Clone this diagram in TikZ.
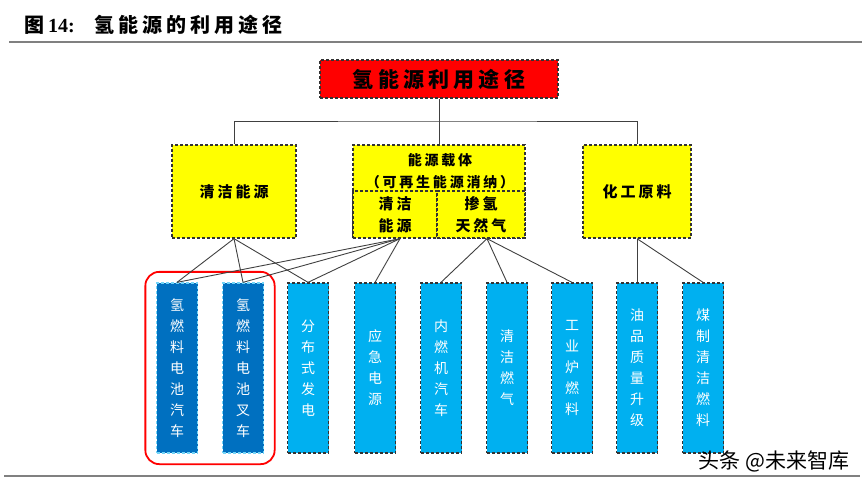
\documentclass[tikz,border=0pt]{standalone}
\usepackage{fontspec}
\usepackage{pdfrender}
\setmainfont{Liberation Serif}
\newfontfamily\cjk[LetterSpace=20]{Noto Sans CJK SC}
\newfontfamily\cjkplain{Noto Sans CJK SC}
\usetikzlibrary{fit}
\definecolor{rootred}{RGB}{255,0,0}
\definecolor{catyellow}{RGB}{255,255,0}
\definecolor{leafblue}{RGB}{0,176,240}
\definecolor{fcblue}{RGB}{0,112,192}
\definecolor{rulegray}{RGB}{128,128,128}
\definecolor{wmedge}{RGB}{60,60,60}
\tikzset{
  box/.style={draw=black!80, dash pattern=on 3pt off 2pt, line width=1.3pt, inner sep=0pt, align=center},
  rootbox/.style={box, fill=rootred, minimum width=238pt, minimum height=38pt, font=\cjk\bfseries\fontsize{21}{24}\selectfont},
  catbox/.style={box, fill=catyellow, minimum height=93pt, font=\cjk\bfseries\fontsize{15}{22}\selectfont},
  subbox/.style={box, fill=catyellow, minimum height=47pt, font=\cjk\bfseries\fontsize{15}{22}\selectfont},
  leafbox/.style={box, fill=leafblue, minimum width=41pt, minimum height=170pt, text=white, font=\cjkplain\fontsize{14}{21}\selectfont},
  fcbox/.style={leafbox, fill=fcblue, draw=leafblue!55!white},
  link/.style={draw=black!75, line width=0.9pt},
  wmark/.style={inner sep=0pt, font=\cjkplain\fontsize{21}{24}\selectfont},
}
\begin{document}
\begin{tikzpicture}[x=1pt, y=-1pt]
  \useasboundingbox (0,0) rectangle (867,481);
  % heading and rules
  \node[anchor=west, inner sep=0pt, font=\bfseries\fontsize{20}{24}\selectfont] (title) at (24,25)
    {{\cjk 图}\hspace{4pt}14:\hspace{20pt}{\cjk 氢能源的利用途径}};
  \draw[rulegray, line width=2pt] (9,42) -- (862,42);
  \draw[rulegray, line width=2.5pt] (4,476) -- (860,476);

  \node[rootbox] (root) at (439,79) {氢能源利用途径};

  \node[catbox, minimum width=124pt] (clean) at (234,191.5) {清洁能源};
  \node[catbox, minimum width=172pt] (carrier) at (439,191.5) {};
  \node[catbox, minimum width=108pt] (chem) at (637,191.5) {化工原料};
  \node[inner sep=0pt, align=center, font=\cjk\bfseries\fontsize{14}{22}\selectfont] (carriertxt) at (440,171)
    {能源载体\\（可再生能源消纳）};
  \node[subbox, minimum width=84pt] (cleanE) at (395,214.5) {清洁\\能源};
  \node[subbox, minimum width=88pt] (blendH) at (481,214.5) {掺氢\\天然气};

  % hydrogen end uses
  \node[fcbox] (fcCar) at (177,368) {氢\\燃\\料\\电\\池\\汽\\车};
  \node[fcbox] (fcFork) at (243,368) {氢\\燃\\料\\电\\池\\叉\\车};
  \node[leafbox] (distGen) at (308,368) {分\\布\\式\\发\\电};
  \node[leafbox] (backup) at (375,368) {应\\急\\电\\源};
  \node[leafbox] (iceCar) at (441,368) {内\\燃\\机\\汽\\车};
  \node[leafbox] (cleanGas) at (507,368) {清\\洁\\燃\\气};
  \node[leafbox] (furnace) at (572,368) {工\\业\\炉\\燃\\料};
  \node[leafbox] (oilUp) at (637,368) {油\\品\\质\\量\\升\\级};
  \node[leafbox] (coalFuel) at (703,368) {煤\\制\\清\\洁\\燃\\料};

  \node[draw=rootred, line width=1.8pt, rounded corners=14pt, inner sep=10.5pt, fit=(fcCar)(fcFork)] (fcGroup) {};

  % tree links
  \coordinate (bus) at (439,121);
  \draw[link] (root.south) -- (carrier.north);
  \draw[link] (clean.north) |- (bus) -| (chem.north);
  \draw[link] (clean.south) -- (fcCar.north);
  \draw[link] (clean.south) -- (fcFork.north);
  \draw[link] (clean.south) -- (distGen.north);
  \draw[link] ([xshift=5pt]cleanE.south) -- (fcCar.north);
  \draw[link] ([xshift=5pt]cleanE.south) -- (fcFork.north);
  \draw[link] ([xshift=5pt]cleanE.south) -- (distGen.north);
  \draw[link] ([xshift=5pt]cleanE.south) -- (backup.north);
  \draw[link] ([xshift=6pt]blendH.south) -- (iceCar.north);
  \draw[link] ([xshift=6pt]blendH.south) -- (cleanGas.north);
  \draw[link] ([xshift=6pt]blendH.south) -- (furnace.north);
  \draw[link] (chem.south) -- (oilUp.north);
  \draw[link] (chem.south) -- (coalFuel.north);

  % watermark
  \node[wmark] (wm) at (774,461)
    {\textpdfrender{TextRenderingMode=FillStroke, LineWidth=1.2, StrokeColor=wmedge, FillColor=white}{头条 @未来智库}};
\end{tikzpicture}
\end{document}
